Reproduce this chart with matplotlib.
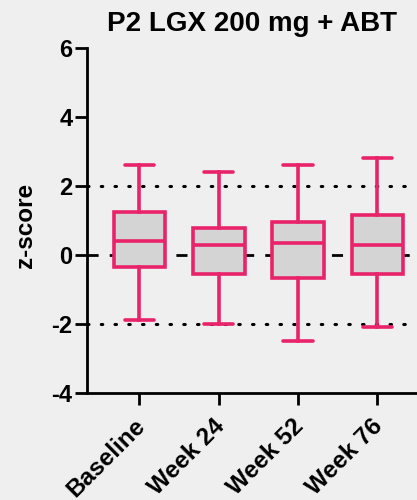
import matplotlib
matplotlib.use("Agg")
import matplotlib.pyplot as plt
import matplotlib.transforms as mtransforms

plt.rcParams['font.family'] = ['Liberation Sans', 'DejaVu Sans']
plt.rcParams['font.weight'] = 'bold'
plt.rcParams['axes.unicode_minus'] = False

# summary stats
timepoints = ['Baseline', 'Week 24', 'Week 52', 'Week 76']
whisker_low = [-1.89, -1.99, -2.48, -2.08]
q1 = [-0.34, -0.54, -0.68, -0.54]
median = [0.42, 0.30, 0.35, 0.30]
q3 = [1.25, 0.79, 0.95, 1.15]
whisker_high = [2.6, 2.4, 2.6, 2.8]

pink = '#E8236A'
bg = '#EFEFEF'

stats = []
for i, name in enumerate(timepoints):
    stats.append(dict(label=name, whislo=whisker_low[i], q1=q1[i], med=median[i],
                      q3=q3[i], whishi=whisker_high[i], fliers=[]))

fig = plt.figure(figsize=(4.17, 5.0), dpi=100, facecolor=bg)
ax = fig.add_axes([0.209, 0.214, 0.791, 0.69])
ax.set_facecolor(bg)

# reference lines
ax.axhline(2, color='black', lw=2.2, ls=(0, (0.5, 4)), dash_capstyle='round', zorder=1)
ax.axhline(-2, color='black', lw=2.2, ls=(0, (0.5, 4)), dash_capstyle='round', zorder=1)
ax.axhline(0, color='black', lw=2, ls=(0, (4, 4)), zorder=1)

lw = 2.6
ax.bxp(stats, positions=range(len(timepoints)), widths=0.65, patch_artist=True,
       showfliers=False,
       boxprops=dict(facecolor='#D4D4D4', edgecolor=pink, linewidth=lw),
       medianprops=dict(color=pink, linewidth=lw),
       whiskerprops=dict(color=pink, linewidth=lw),
       capprops=dict(color=pink, linewidth=lw, solid_capstyle='round'),
       capwidths=0.37, zorder=3)

ax.set_xlim(-0.66, 3.5)
ax.set_ylim(-4, 6)
ax.set_yticks([-4, -2, 0, 2, 4, 6])
ax.set_xticks(range(len(timepoints)))

ax.spines['top'].set_visible(False)
ax.spines['right'].set_visible(False)
ax.spines['left'].set_linewidth(2)
ax.spines['bottom'].set_linewidth(2)
ax.tick_params(axis='both', width=2, length=8.5, direction='out', pad=2)
ax.tick_params(axis='x', pad=4)

ax.set_xticklabels(timepoints, rotation=45, ha='right', va='top',
                   rotation_mode='anchor', fontsize=17.5, fontweight='bold')
# nudge the rotated labels a bit left and down
shift = mtransforms.ScaledTranslation(-6 / 100, -4 / 100, fig.dpi_scale_trans)
for lab in ax.get_xticklabels():
    lab.set_transform(lab.get_transform() + shift)
for lab in ax.get_yticklabels():
    lab.set_fontsize(17)
    lab.set_fontweight('bold')

ax.set_ylabel('z-score', fontsize=17.5, fontweight='bold')
ax.yaxis.set_label_coords(-0.152, 0.485)
ax.set_title('P2 LGX 200 mg + ABT', fontsize=20, fontweight='bold', pad=12)

fig.savefig('out.png', dpi=100, facecolor=bg)
